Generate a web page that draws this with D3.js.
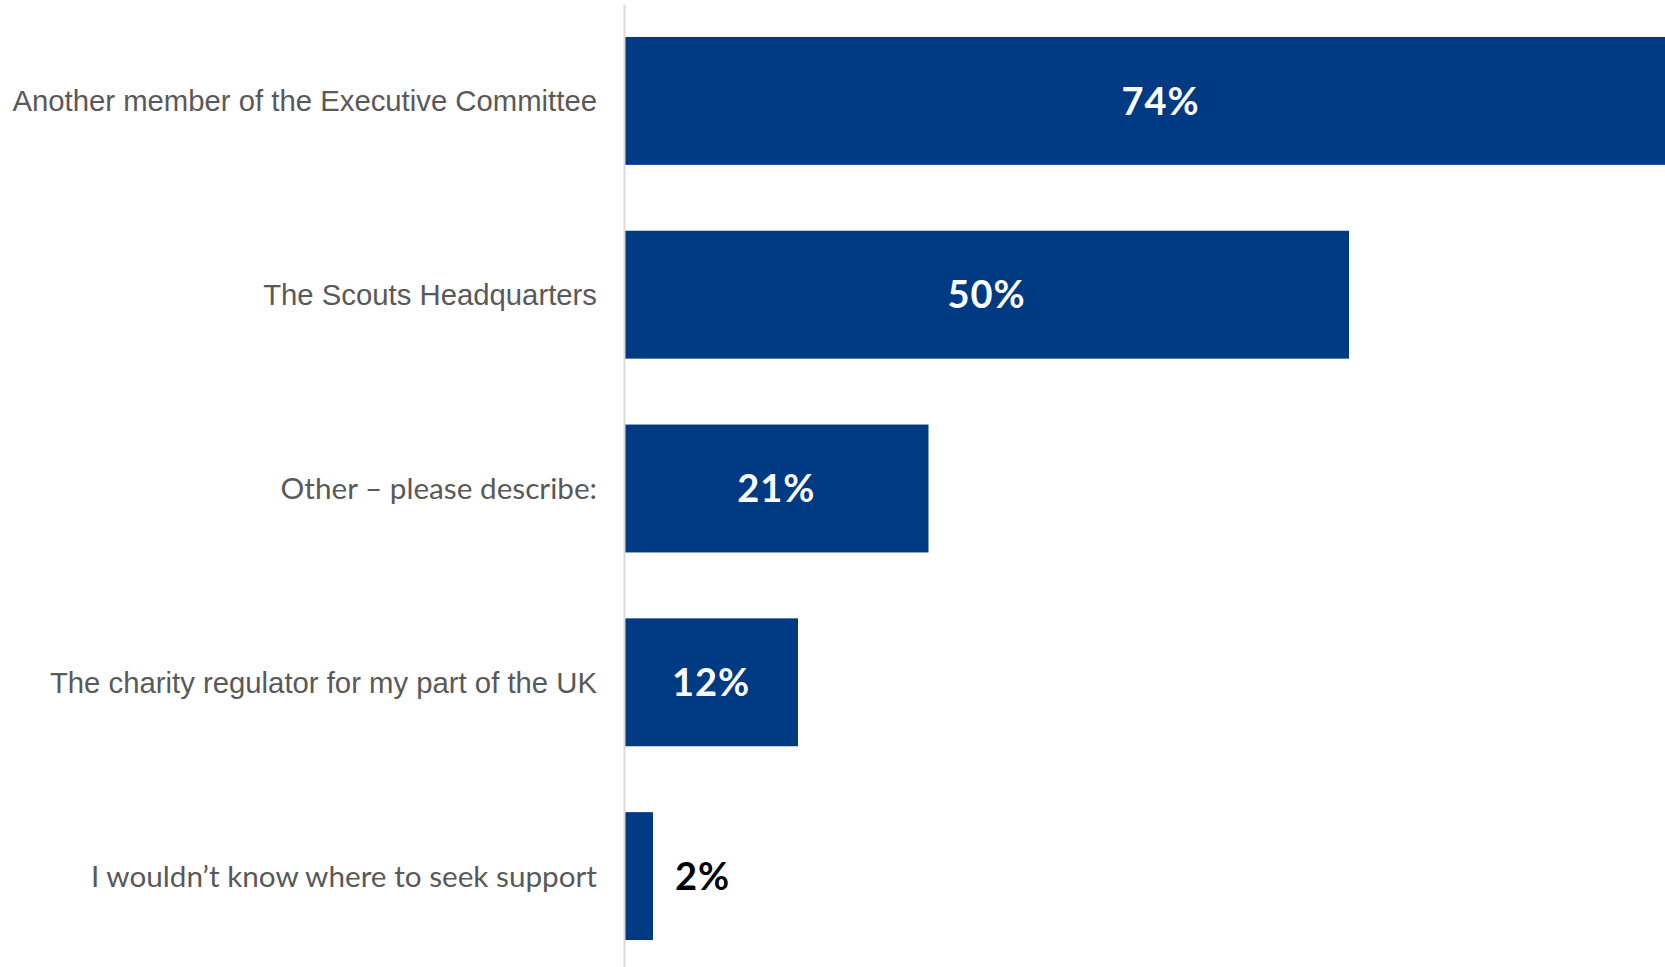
<!DOCTYPE html>
<html>
<head>
<meta charset="utf-8">
<script src="https://cdn.jsdelivr.net/npm/d3@7"></script>
<style>
  html, body { margin: 0; padding: 0; background: #ffffff; overflow: hidden; }
  svg { display: block; }
</style>
</head>
<body>
<svg id="chart" width="1665" height="967"></svg>
<script>
// Where respondents would seek support (share of respondents, %)
const categories = [
  "Another member of the Executive Committee",
  "The Scouts Headquarters",
  "Other \u2013 please describe:",
  "The charity regulator for my part of the UK",
  "I wouldn\u2019t know where to seek support"
];
const values = [74, 50, 21, 12, 2];
const valueLabels = ["74%", "50%", "21%", "12%", "2%"];

const width = 1665, height = 967;
const svg = d3.select("#chart");

const x = d3.scaleLinear().domain([0, 100]).range([624, 2074]);
const y = d3.scaleBand().domain(categories).range([4, 973])
  .paddingInner(0.34).paddingOuter(0.17);

// rows whose labels are set in the rounded humanist face
const humanistRows = new Set([2, 4]);

// bars
svg.append("g").selectAll("rect")
  .data(categories)
  .join("rect")
  .attr("x", x(0))
  .attr("y", d => y(d))
  .attr("width", (d, i) => x(values[i]) - x(0))
  .attr("height", y.bandwidth())
  .attr("fill", "#003a82");

// category axis
const axis = svg.append("g")
  .attr("transform", `translate(${x(0)},0)`)
  .call(d3.axisLeft(y).tickSize(0).tickPadding(27));
axis.select(".domain").attr("stroke", "#d9d9d9").attr("stroke-width", 2);
axis.selectAll(".tick text")
  .attr("fill", "#595959")
  .attr("dy", "0.35em")
  .style("font-family", (d, i) => humanistRows.has(i) ? "Lato, 'Open Sans', sans-serif" : "'Liberation Sans', Arial, sans-serif")
  .style("font-size", (d, i) => humanistRows.has(i) ? "29.7px" : "29.3px");

// value labels
svg.append("g").selectAll("text")
  .data(categories)
  .join("text")
  .attr("x", (d, i) => values[i] < 5 ? x(values[i]) + 22 : (x(0) + x(values[i])) / 2)
  .attr("y", d => y(d) + y.bandwidth() / 2)
  .attr("dy", "0.36em")
  .attr("text-anchor", (d, i) => values[i] < 5 ? "start" : "middle")
  .attr("fill", (d, i) => values[i] < 5 ? "#000000" : "#ffffff")
  .style("font-family", "Lato, 'Open Sans', sans-serif")
  .style("font-weight", "bold")
  .style("font-size", "38px")
  .style("letter-spacing", "1px")
  .text((d, i) => valueLabels[i]);
</script>
</body>
</html>
